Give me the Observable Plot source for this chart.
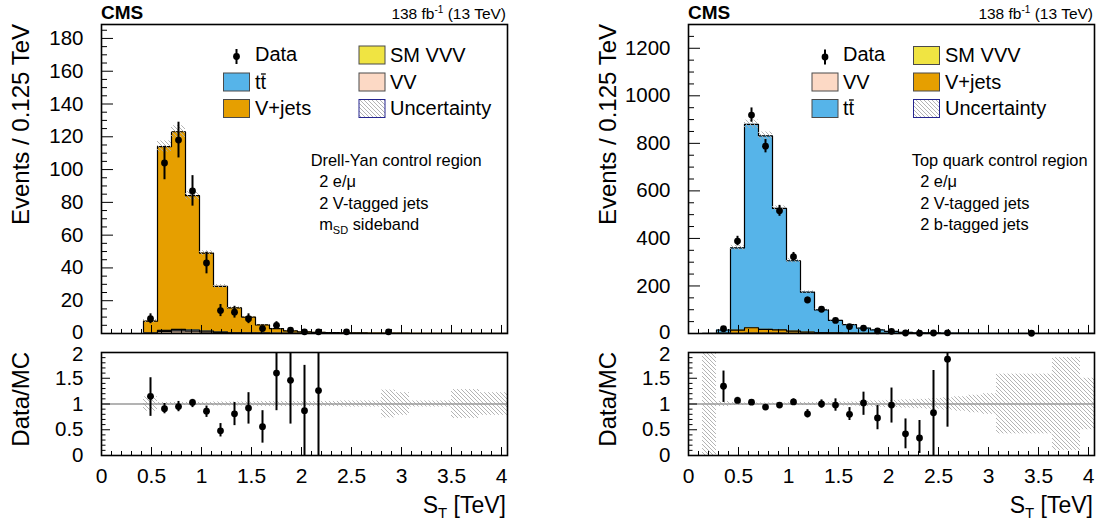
<!DOCTYPE html>
<html>
<head>
<meta charset="utf-8">
<script src="https://cdn.jsdelivr.net/npm/d3@7"></script>
<script src="https://cdn.jsdelivr.net/npm/@observablehq/plot@0.6"></script>
<style>
html, body { margin: 0; padding: 0; background: #fff; }
#root { position: relative; width: 1101px; height: 527px; overflow: hidden; }
</style>
</head>
<body>
<div id="root"></div>
<script>
const FONT = '"Liberation Sans", Arial, Helvetica, sans-serif';

// ---------- data ----------
// S_T bin edges [TeV]
const stEdges = [0, 0.14, 0.28, 0.42, 0.56, 0.70, 0.84, 0.98, 1.12, 1.26, 1.40, 1.54, 1.68, 1.82, 1.96, 2.10,
                 2.24, 2.38, 2.52, 2.66, 2.80, 2.94, 3.08, 3.22, 3.36, 3.50, 3.64, 3.78, 3.92, 4.06];

// Drell-Yan control region (left)
const dyVVV   = [0,0,0,0,0.05,0.06,0.06,0.05,0.04,0.03,0.02,0.02,0.01,0.01,0,0,0,0,0,0,0,0,0,0,0,0,0,0,0];
const dyVV    = [0,0,0,0.2,1.2,1.5,1.3,1.0,0.6,0.4,0.3,0.2,0.1,0.1,0.05,0.02,0,0,0,0,0,0,0,0,0,0,0,0,0];
const dyTT    = [0,0,0,0.1,0.6,0.9,0.7,0.4,0.2,0.1,0.1,0.05,0.05,0,0,0,0,0,0,0,0,0,0,0,0,0,0,0,0];
const dyVjets = [0,0,0,7.2,112.2,120.6,82.0,47.6,27.9,15.1,9.6,4.95,2.85,1.5,0.95,0.68,0.5,0.4,0.35,0.3,0.25,0.2,0.15,0.12,0.1,0.08,0.06,0.05,0.04];
const dyUnc   = [0,0,0,0.14,0.03,0.03,0.03,0.03,0.04,0.04,0.04,0.05,0.05,0.05,0.05,0.05,0.05,0.06,0.06,0.06,0.27,0.22,0.06,0.06,0.06,0.28,0.28,0.22,0.22];
const dyData  = [null,null,null,9,104,118,87,43,14,13,9,3,5,2,1,1,null,1,null,null,1,null,null,null,null,null,null,null,null];
const dyDataErr = [null,null,null,3,10.2,10.9,9.3,6.6,3.7,3.6,3,1.7,2.2,1.4,1,1,null,1,null,null,1,null,null,null,null,null,null,null,null];
const dyRatio   = [null,null,null,1.15,0.91,0.95,1.03,0.86,0.48,0.81,0.92,0.56,1.60,1.46,0.87,1.26,null,null,null,null,null,null,null,null,null,null,null,null,null];
const dyRatioLo = [null,null,null,0.76,0.81,0.85,0.93,0.74,0.36,0.58,0.61,0.24,0.87,0.61,0,0,null,null,null,null,null,null,null,null,null,null,null,null,null];
const dyRatioHi = [null,null,null,1.51,1.01,1.05,1.09,0.96,0.62,1.03,1.22,0.87,2.5,2.5,1.75,2.5,null,null,null,null,null,null,null,null,null,null,null,null,null];

// Top quark control region (right)
const rtVVV   = [0,0,0,0,0.1,0.1,0.1,0.1,0.05,0.05,0.02,0.02,0,0,0,0,0,0,0,0,0,0,0,0,0,0,0,0,0];
const rtVV    = [0,0,0.2,1.0,2.0,2.0,1.5,1.0,0.6,0.4,0.3,0.2,0.1,0.1,0.05,0.05,0,0,0,0,0,0,0,0,0,0,0,0,0];
const rtVjets = [0,0,0.3,13,22,15.5,13.5,9,5.4,3.6,2.2,1.3,0.9,0.6,0.45,0.25,0.2,0.15,0.1,0.1,0.05,0.05,0.05,0.05,0.03,0.03,0.02,0.02,0.02];
const rtTT    = [0,0.2,14.3,346,856,813.5,511,296,168,95,52.5,35.5,22,14.3,8.5,4.7,3.0,2.25,1.5,1.1,0.85,0.65,0.5,0.4,0.37,0.27,0.23,0.18,0.13];
const rtUnc   = [0,1.2,0.05,0.03,0.02,0.02,0.02,0.03,0.03,0.03,0.04,0.04,0.05,0.06,0.07,0.08,0.09,0.1,0.12,0.14,0.17,0.2,0.58,0.58,0.58,0.58,0.9,0.9,0.5];
const rtData  = [null,null,20,389,919,788,516,323,141,102,55,29,23,11,9,2,1,2,3,null,null,null,null,null,1,null,null,null,null];
const rtDataErr = [null,null,4.5,20,30,28,23,18,12,10,7.4,5.4,4.8,3.3,3,1.4,1,1.4,1.7,null,null,null,null,null,1,null,null,null,null];
const rtRatio   = [null,null,1.345,1.07,1.035,0.94,0.98,1.04,0.81,1.0,0.98,0.80,1.02,0.73,0.98,0.42,0.34,0.83,1.87,null,null,null,null,null,null,null,null,null,null];
const rtRatioLo = [null,null,1.03,1.01,1.0,0.9,0.94,0.98,0.73,0.92,0.86,0.68,0.78,0.5,0.63,0.13,0.04,0,0.55,null,null,null,null,null,null,null,null,null,null];
const rtRatioHi = [null,null,1.64,1.13,1.07,0.98,1.02,1.1,0.89,1.08,1.1,0.93,1.23,0.97,1.31,0.71,0.68,1.65,2.5,null,null,null,null,null,null,null,null,null,null];

// tick values / labels
const xMajorTicks = [0, 0.5, 1, 1.5, 2, 2.5, 3, 3.5, 4];
const ratioTicks = [0, 0.5, 1, 1.5, 2];
const dyYTicks = [0, 20, 40, 60, 80, 100, 120, 140, 160, 180];
const rtYTicks = [0, 200, 400, 600, 800, 1000, 1200];

const COL = { vvv: "#f0e442", vv: "#fcd9c5", tt: "#56b4e9", vj: "#e69f00" };
const HATCH = "#ababab";

// ---------- helpers ----------
const root = document.getElementById("root");
function place(el, left, top) {
  el.style.position = "absolute";
  el.style.left = left + "px";
  el.style.top = top + "px";
  root.appendChild(el);
}
const bins = d3.range(stEdges.length - 1).map(i => ({ i, lo: stEdges[i], hi: stEdges[i + 1], c: (stEdges[i] + stEdges[i + 1]) / 2 }));
const xMinor = d3.range(0, 4.001, 0.1).map(v => +v.toFixed(2)).filter(v => !xMajorTicks.includes(v));
const X_END = stEdges[stEdges.length - 1];
const fmt = d => String(d);

function tickMarks(yMajor, yMinor, xLenMaj, xLenMin, yLenMaj, yLenMin) {
  return [
    Plot.ruleY(yMajor, { y: d => d, x1: 0, x2: xLenMaj, stroke: "#000", strokeWidth: 1 }),
    Plot.ruleY(yMinor, { y: d => d, x1: 0, x2: xLenMin, stroke: "#000", strokeWidth: 1 }),
    Plot.ruleX(xMajorTicks, { x: d => d, y1: 0, y2: yLenMaj, stroke: "#000", strokeWidth: 1 }),
    Plot.ruleX(xMinor, { x: d => d, y1: 0, y2: yLenMin, stroke: "#000", strokeWidth: 1 })
  ];
}

function topPanel(p) {
  let run = bins.map(() => 0);
  const cums = p.layers.map(L => { run = run.map((v, i) => v + L.values[i]); return { color: L.color, vals: run.slice() }; });
  const total = cums[cums.length - 1].vals;
  const marks = [];
  for (let k = cums.length - 1; k >= 0; k--) {
    const { color, vals } = cums[k];
    marks.push(Plot.rect(bins.filter(b => vals[b.i] > 0), { x1: "lo", x2: "hi", y1: 0, y2: b => vals[b.i], fill: color }));
    const steps = [{ x: 0, y: 0 }, ...bins.map(b => ({ x: b.lo, y: vals[b.i] })), { x: X_END, y: vals[vals.length - 1] }];
    marks.push(Plot.line(steps, { x: "x", y: "y", curve: "step-after", stroke: "#000", strokeWidth: 1.2 }));
  }
  marks.push(Plot.rect(bins.filter(b => total[b.i] > 0 && p.unc[b.i] > 0), {
    x1: "lo", x2: "hi",
    y1: b => Math.max(0, total[b.i] * (1 - p.unc[b.i])),
    y2: b => total[b.i] * (1 + p.unc[b.i]),
    fill: "url(#uncHatch)"
  }));
  const pts = bins.filter(b => p.data[b.i] != null).map(b => ({ x: b.c, y: p.data[b.i], e: p.dataErr[b.i] }));
  marks.push(Plot.ruleX(pts, { x: "x", y1: d => Math.max(0, d.y - d.e), y2: d => d.y + d.e, stroke: "#000", strokeWidth: 2 }));
  marks.push(Plot.dot(pts, { x: "x", y: "y", r: 3.4, fill: "#000", stroke: "none" }));
  marks.push(...tickMarks(p.yTicks, p.yMinor, 0.12, 0.06, p.xTickLen, p.xTickLen / 2));
  marks.push(Plot.frame({ stroke: "#000", strokeWidth: 1.6 }));
  marks.push(Plot.axisY({ ticks: p.yTicks.slice(1), tickSize: 0, tickPadding: 18, fontSize: 20.5, label: null, tickFormat: fmt }));
  marks.push(Plot.axisY({ ticks: p.yTicks.slice(0, 1), tickSize: 0, tickPadding: 18, fontSize: 20.5, label: null, tickFormat: fmt, dy: -1.5 }));
  return Plot.plot({
    width: p.width, height: 340,
    marginLeft: p.marginLeft, marginRight: p.marginRight, marginTop: 24, marginBottom: 7,
    x: { domain: [0, X_END], axis: null },
    y: { domain: [0, p.yMax], axis: null },
    style: { fontFamily: FONT, background: "transparent", overflow: "visible" },
    marks
  });
}

function ratioPanel(p) {
  let run = bins.map(() => 0);
  p.layers.forEach(L => { run = run.map((v, i) => v + L.values[i]); });
  const total = run;
  const marks = [];
  marks.push(Plot.rect(bins.filter(b => total[b.i] > 0 && p.unc[b.i] > 0), {
    x1: "lo", x2: "hi",
    y1: b => Math.max(0, 1 - p.unc[b.i]),
    y2: b => Math.min(2, 1 + p.unc[b.i]),
    fill: "url(#uncHatch)"
  }));
  marks.push(Plot.ruleY([1], { x1: 0, x2: X_END, stroke: "#9a9a9a", strokeWidth: 1.6 }));
  const pts = bins.filter(b => p.ratio[b.i] != null).map(b => ({ x: b.c, y: p.ratio[b.i], lo: p.lo[b.i], hi: p.hi[b.i] }));
  marks.push(Plot.ruleX(pts, { x: "x", y1: d => Math.max(0, d.lo), y2: d => Math.min(2, d.hi), stroke: "#000", strokeWidth: 2 }));
  marks.push(Plot.dot(pts, { x: "x", y: "y", r: 3.4, fill: "#000", stroke: "none" }));
  const rMinor = d3.range(0, 2.001, 0.1).map(v => +v.toFixed(2)).filter(v => !ratioTicks.includes(v));
  marks.push(...tickMarks(ratioTicks, rMinor, 0.09, 0.045, 0.155, 0.078));
  marks.push(Plot.frame({ stroke: "#000", strokeWidth: 1.6 }));
  marks.push(Plot.axisY({ ticks: ratioTicks.slice(0, -1), tickSize: 0, tickPadding: 18, fontSize: 20.5, label: null, tickFormat: fmt }));
  marks.push(Plot.axisY({ ticks: ratioTicks.slice(-1), tickSize: 0, tickPadding: 18, fontSize: 20.5, label: null, tickFormat: fmt, dy: 1.5 }));
  marks.push(Plot.axisX({ ticks: xMajorTicks, tickSize: 0, tickPadding: 13, fontSize: 21, label: null, tickFormat: fmt }));
  return Plot.plot({
    width: p.width, height: 187,
    marginLeft: p.marginLeft, marginRight: p.marginRight, marginTop: 12, marginBottom: 72,
    x: { domain: [0, X_END], axis: null },
    y: { domain: [0, 2], axis: null },
    style: { fontFamily: FONT, background: "transparent", overflow: "visible" },
    marks
  });
}

// ---------- panels ----------
const dyLayers = [
  { values: dyVVV, color: COL.vvv }, { values: dyVV, color: COL.vv },
  { values: dyTT, color: COL.tt }, { values: dyVjets, color: COL.vj }
];
const rtLayers = [
  { values: rtVVV, color: COL.vvv }, { values: rtVV, color: COL.vv },
  { values: rtVjets, color: COL.vj }, { values: rtTT, color: COL.tt }
];

place(topPanel({
  width: 550, marginLeft: 101, marginRight: 43, layers: dyLayers, unc: dyUnc,
  data: dyData, dataErr: dyDataErr, yMax: 188.5, yTicks: dyYTicks,
  yMinor: d3.range(0, 186, 5).filter(v => v % 20 !== 0), xTickLen: 4.9
}), 0, 0);
place(ratioPanel({
  width: 550, marginLeft: 101, marginRight: 43, layers: dyLayers, unc: dyUnc,
  ratio: dyRatio, lo: dyRatioLo, hi: dyRatioHi
}), 0, 340);
place(topPanel({
  width: 551, marginLeft: 138, marginRight: 7, layers: rtLayers, unc: rtUnc,
  data: rtData, dataErr: rtDataErr, yMax: 1300, yTicks: rtYTicks,
  yMinor: d3.range(0, 1300, 50).filter(v => v % 200 !== 0), xTickLen: 34
}), 550, 0);
place(ratioPanel({
  width: 551, marginLeft: 138, marginRight: 7, layers: rtLayers, unc: rtUnc,
  ratio: rtRatio, lo: rtRatioLo, hi: rtRatioHi
}), 550, 340);

// ---------- overlay: titles, legends, labels ----------
const ov = d3.create("svg").attr("width", 1101).attr("height", 527).attr("font-family", FONT)
  .style("position", "absolute").style("left", "0px").style("top", "0px").style("pointer-events", "none");
const pat = ov.append("defs").append("pattern").attr("id", "uncHatch")
  .attr("patternUnits", "userSpaceOnUse").attr("width", 4).attr("height", 4);
pat.append("path").attr("d", "M-1,-1L5,5M-1,3L1,5M3,-1L5,1").attr("stroke", HATCH).attr("stroke-width", 0.9);

function text(x, y, s, size, anchor) {
  const t = ov.append("text").attr("x", x).attr("y", y).attr("font-size", size).attr("fill", "#000");
  if (anchor) t.attr("text-anchor", anchor);
  if (s != null) t.text(s);
  return t;
}

function panelTexts(fx0, fx1, regionX, regionLines) {
  text(fx0, 18.5, "CMS", 19).attr("font-weight", "bold");
  const l = text(fx1 - 1, 19, null, 15.5, "end");
  l.append("tspan").text("138 fb");
  l.append("tspan").attr("font-size", 10).attr("dy", -6).text("-1");
  l.append("tspan").attr("dy", 6).text(" (13 TeV)");
  // axis titles
  text(0, 0, "Events / 0.125 TeV", 24, "end").attr("transform", `translate(${fx0 - 72},24) rotate(-90)`);
  text(0, 0, "Data/MC", 24, "end").attr("transform", `translate(${fx0 - 72},352) rotate(-90)`);
  const xt = text(fx1 - 1, 513, null, 23, "end");
  xt.append("tspan").text("S");
  xt.append("tspan").attr("font-size", 15).attr("dy", 5).text("T");
  xt.append("tspan").attr("dy", -5).text(" [TeV]");
  // region description
  text(regionX, 166, regionLines[0], 16.4);
  regionLines.slice(1).forEach((ln, j) => {
    const t = text(regionX + 8.5, 187 + j * 21.5, null, 16.4);
    ln.forEach(part => {
      if (part.sub) t.append("tspan").attr("font-size", 11).attr("dy", 4).text(part.sub);
      else t.append("tspan").attr("dy", part.after ? -4 : 0).text(part.t);
    });
  });
}

function legendEntry(e) {
  if (e.kind === "data") {
    ov.append("line").attr("x1", e.x).attr("x2", e.x).attr("y1", e.y - 7.5).attr("y2", e.y + 7.5).attr("stroke", "#000").attr("stroke-width", 2);
    ov.append("circle").attr("cx", e.x).attr("cy", e.y).attr("r", 3.4).attr("fill", "#000");
  } else {
    ov.append("rect").attr("x", e.x).attr("y", e.y).attr("width", 26).attr("height", 18)
      .attr("fill", e.kind === "hatch" ? "url(#uncHatch)" : e.color)
      .attr("stroke", e.kind === "hatch" ? "#25258f" : "#4a4a4a").attr("stroke-width", 1);
  }
  text(e.tx, e.ty, e.label, 20);
  if (e.bar) {
    // overline on the second t of "tt"
    ov.append("line").attr("x1", e.tx + 6).attr("x2", e.tx + 10.8).attr("y1", e.ty - 14.5).attr("y2", e.ty - 14.5)
      .attr("stroke", "#000").attr("stroke-width", 1.3);
  }
}

panelTexts(101, 507, 310.7, [
  "Drell-Yan control region",
  [{ t: "2 e/\u03bc" }],
  [{ t: "2 V-tagged jets" }],
  [{ t: "m" }, { sub: "SD" }, { t: " sideband", after: true }]
]);
panelTexts(688, 1094, 911.7, [
  "Top quark control region",
  [{ t: "2 e/\u03bc" }],
  [{ t: "2 V-tagged jets" }],
  [{ t: "2 b-tagged jets" }]
]);

// left legend
[
  { kind: "data", x: 236.5, y: 56.5, tx: 255, ty: 61, label: "Data" },
  { kind: "box", x: 223.5, y: 73, color: COL.tt, tx: 255, ty: 88.5, label: "tt", bar: true },
  { kind: "box", x: 223.5, y: 99.5, color: COL.vj, tx: 255, ty: 114.5, label: "V+jets" },
  { kind: "box", x: 359, y: 46, color: COL.vvv, tx: 390, ty: 61.5, label: "SM VVV" },
  { kind: "box", x: 359, y: 73, color: COL.vv, tx: 390, ty: 88.5, label: "VV" },
  { kind: "hatch", x: 359, y: 99.5, tx: 390, ty: 114.5, label: "Uncertainty" }
].forEach(legendEntry);

// right legend
[
  { kind: "data", x: 825, y: 57, tx: 843, ty: 61, label: "Data" },
  { kind: "box", x: 812, y: 73, color: COL.vv, tx: 843, ty: 88.5, label: "VV" },
  { kind: "box", x: 812, y: 99.5, color: COL.tt, tx: 843, ty: 114.5, label: "tt", bar: true },
  { kind: "box", x: 913.5, y: 46.5, color: COL.vvv, tx: 945, ty: 61.5, label: "SM VVV" },
  { kind: "box", x: 913.5, y: 73, color: COL.vj, tx: 945, ty: 88.5, label: "V+jets" },
  { kind: "hatch", x: 913.5, y: 99.5, tx: 945, ty: 114.5, label: "Uncertainty" }
].forEach(legendEntry);

root.appendChild(ov.node());
</script>
</body>
</html>
